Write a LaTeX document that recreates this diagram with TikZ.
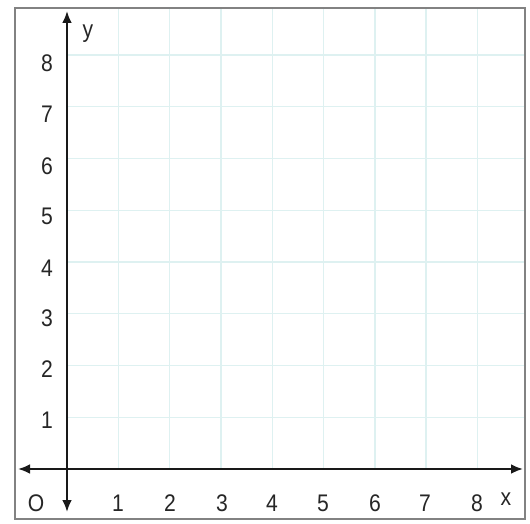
\documentclass[tikz,border=0pt]{standalone}
\usepackage{fontspec}
\setmainfont{Liberation Sans}
\usetikzlibrary{arrows.meta}
\definecolor{gridcol}{RGB}{222,241,241}
\definecolor{framecol}{RGB}{130,130,130}
\definecolor{axiscol}{RGB}{25,25,25}
\tikzset{
  gridline/.style={draw=gridcol, line width=1.4pt},
  frameline/.style={draw=framecol, line width=2pt},
  axisline/.style={draw=axiscol, line width=2.8pt, {Latex[length=12pt,width=10pt]}-{Latex[length=12pt,width=10pt]}},
  lab/.style={font=\fontsize{24}{28}\selectfont, text=black!85, inner sep=0pt, anchor=base, xscale=0.88}
}
\begin{document}
\begin{tikzpicture}[x=1pt,y=-1pt]
\useasboundingbox (0,0) rectangle (530,524);
\fill[white] (0,0) rectangle (530,524);
% grid
\foreach \i in {1,...,8} {
  \draw[gridline] ({67+51.3*\i},8) -- ({67+51.3*\i},469);
  \draw[gridline] (67,{469-51.75*\i}) -- (524,{469-51.75*\i});
}
% frame
\draw[frameline] (15,8) rectangle (525,519);
% axes
\coordinate (ytop) at (67,11);
\coordinate (ybot) at (67,512);
\coordinate (xleft) at (18,469);
\coordinate (xright) at (523,469);
\draw[axisline] (ybot) -- (ytop);
\draw[axisline] (xleft) -- (xright);
% x labels
\foreach \i/\px in {1/118,2/170,3/222,4/272,5/323,6/375,7/425,8/477} {
  \node[lab] (xl\i) at (\px,511) {\i};
}
% y labels
\foreach \i/\py in {8/72,7/123,6/174,5/224,4/276,3/326,2/377,1/428} {
  \node[lab] (yl\i) at (47,\py) {\i};
}
\node[lab] (orig) at (36,511) {O};
\node[lab] (xname) at (506,505) {x};
\node[lab] (yname) at (88,38) {y};
\end{tikzpicture}
\end{document}
